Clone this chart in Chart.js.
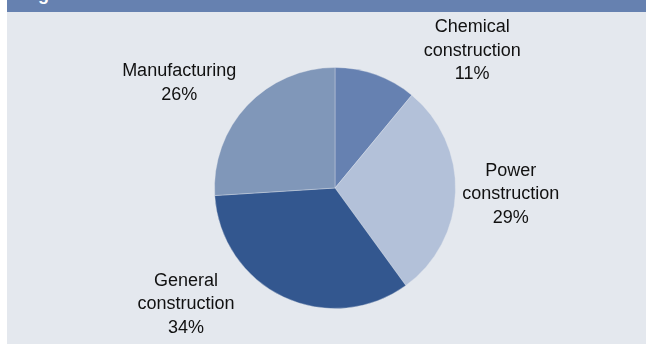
<!DOCTYPE html>
<html>
<head>
<meta charset="utf-8">
<script src="https://cdn.jsdelivr.net/npm/chart.js@4/dist/chart.umd.min.js"></script>
<style>
  html, body { margin: 0; padding: 0; background: #ffffff; }
  body { width: 646px; height: 344px; overflow: hidden; position: relative; }
  #frame { position: absolute; left: 7px; top: 0; width: 639px; height: 344px; background: #e4e8ee; }
  #header { position: absolute; left: 0; top: 0; width: 639px; height: 12px; background: #6681b0; overflow: hidden; }
  #header span { position: absolute; left: 15px; top: -15px; color: #ffffff; font: bold 18px "Liberation Sans", Arial, sans-serif; white-space: nowrap; line-height: 18px; }
  #chart { position: absolute; left: 0; top: 12px; }
</style>
</head>
<body>
<div id="frame">
  <div id="header"><span>Figure 1: Breakdown of end users</span></div>
  <canvas id="chart" width="639" height="332"></canvas>
</div>
<script>
// End-use sectors, clockwise from 12 o'clock
const categories = [
  ['Chemical', 'construction'],
  ['Power', 'construction'],
  ['General', 'construction'],
  ['Manufacturing']
];
const shares = [11, 29, 34, 26];
const sliceColors = ['#6681b1', '#b3c1d9', '#33578f', '#8097b9'];

// Where each outside label sits: bearing in degrees clockwise from top,
// and distance from the centre as a multiple of the pie radius.
const labelPlacement = [
  { bearing: 45, dist: 1.61 },
  { bearing: 92, dist: 1.46 },
  { bearing: 232, dist: 1.57 },
  { bearing: 304, dist: 1.56 }
];

const outsideLabels = {
  id: 'outsideLabels',
  afterDatasetsDraw(chart) {
    const ctx = chart.ctx;
    const meta = chart.getDatasetMeta(0);
    ctx.save();
    ctx.font = '18px "Liberation Sans", Arial, sans-serif';
    ctx.fillStyle = '#111111';
    ctx.textAlign = 'center';
    ctx.textBaseline = 'middle';
    const lineH = 23.5;
    meta.data.forEach((arc, i) => {
      const p = labelPlacement[i];
      const a = p.bearing * Math.PI / 180;
      const r = arc.outerRadius * p.dist;
      const cx = arc.x + Math.sin(a) * r;
      const cy = arc.y - Math.cos(a) * r;
      const lines = categories[i].concat([shares[i] + '%']);
      const top = cy - (lines.length - 1) * lineH / 2;
      lines.forEach((t, k) => ctx.fillText(t, cx, top + k * lineH));
    });
    ctx.restore();
  }
};

new Chart(document.getElementById('chart'), {
  type: 'pie',
  data: {
    labels: categories.map(c => c.join(' ')),
    datasets: [{
      data: shares,
      backgroundColor: sliceColors,
      borderColor: 'rgba(228,232,238,0.35)',
      borderWidth: 1
    }]
  },
  options: {
    responsive: false,
    animation: false,
    layout: { padding: { left: 207, right: 190, top: 55, bottom: 35 } },
    plugins: {
      legend: { display: false },
      tooltip: { enabled: false }
    }
  },
  plugins: [outsideLabels]
});
</script>
</body>
</html>
